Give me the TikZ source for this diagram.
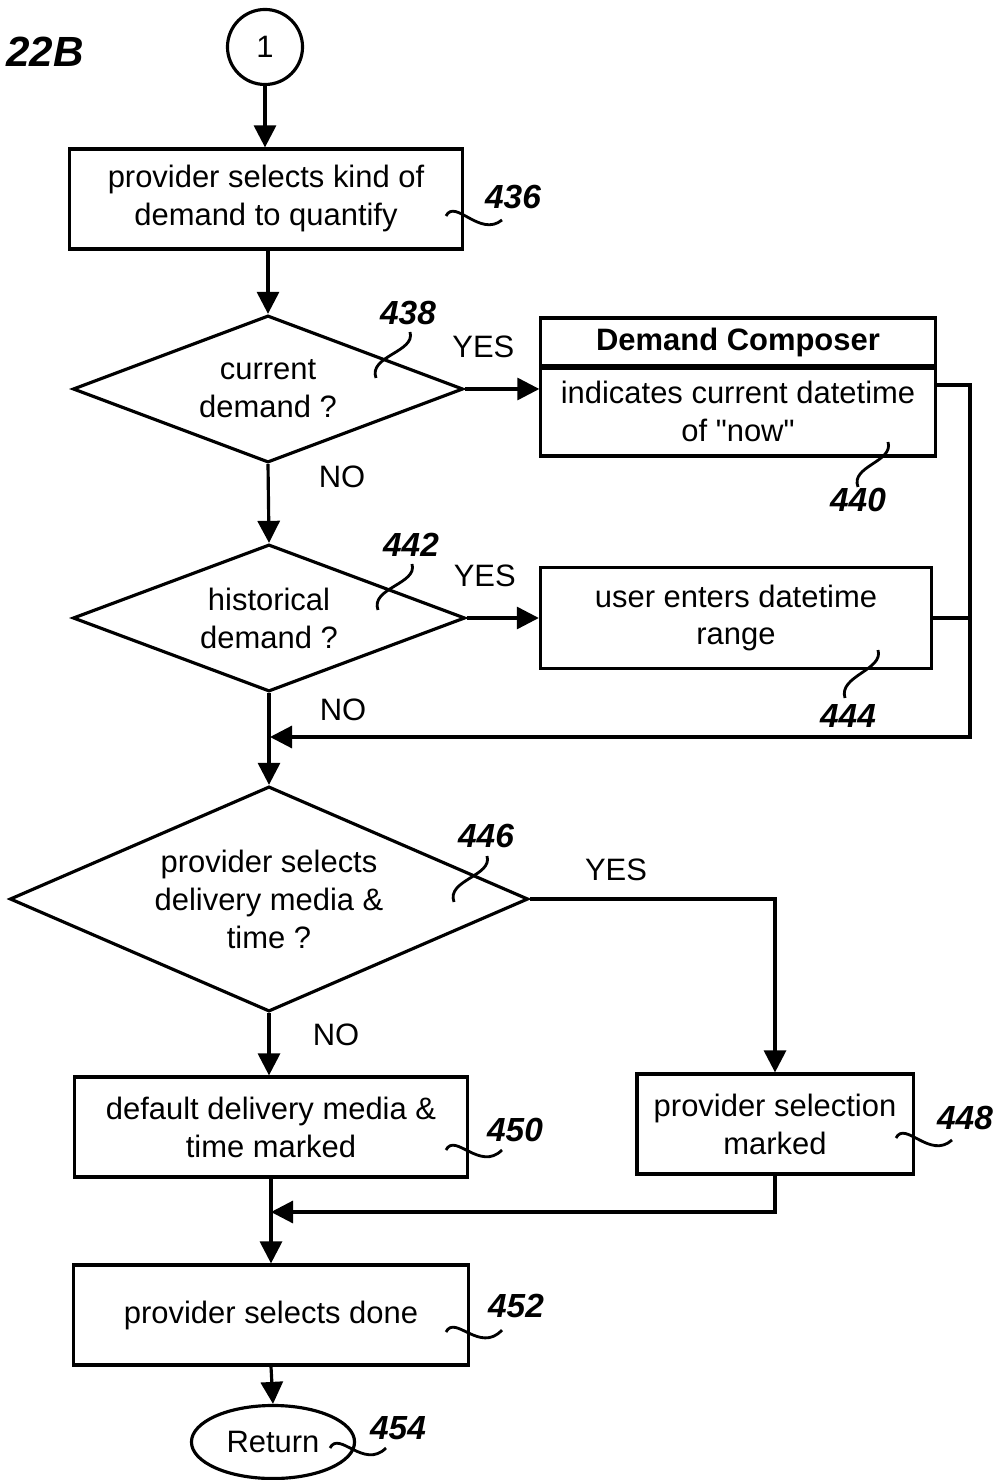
\documentclass[tikz,border=0pt]{standalone}
\usepackage{fontspec}
\setmainfont{Liberation Sans}[Ligatures=TeXOff]
\usetikzlibrary{arrows.meta, shapes.geometric, positioning}

\begin{document}
\begin{tikzpicture}[
    x=0.01cm, y=-0.01cm,
    line width=0.9pt,
    font=\fontsize{8.8}{10.8}\selectfont,
    box/.style={
        draw, rectangle,
        inner sep=0pt,
        align=center
    },
    decision/.style={draw, diamond, inner sep=0pt, align=center},
    conn/.style={draw, circle, minimum size=0.75cm, inner sep=0pt},
    term/.style={draw, ellipse, minimum width=1.63cm, minimum height=0.73cm, inner sep=0pt},
    refnum/.style={font=\fontsize{9.5}{11}\selectfont\bfseries\itshape},
    arr/.style={-{Triangle[length=2.2mm, width=2.2mm]}},
    lead/.style={line width=0.8pt}
]
\useasboundingbox (0,0) rectangle (1000,1480);

% Figure tag and entry connector
\node[font=\fontsize{12}{14}\selectfont\bfseries\itshape] (fig) at (45,52) {22B};
\node[conn] (c1) at (265,47) {1};

% ------- Kind of demand (436) -------
\node[box, minimum width=3.93cm, minimum height=1cm] (b436) at (266,199)
    {provider selects kind of\\demand to quantify};
\draw[arr] (c1) -- (c1 |- b436.north);

% ------- Current demand ? (438) -------
\node[decision, aspect=2.65, minimum width=3.9cm, minimum height=1.47cm] (d438) at (268,389)
    {current\\demand ?};
\draw[arr] (b436.south -| d438.north) -- (d438.north);

% Demand Composer box (440)
\node[box, minimum width=3.94cm, minimum height=0.5cm, font=\fontsize{8.8}{10.8}\selectfont\bfseries]
    (dchead) at (738,343) {Demand Composer};
\node[box, minimum width=3.94cm, minimum height=0.9cm] (dcbody) at (738,411)
    {indicates current datetime\\of "now"};
\draw[arr] (d438.east) -- (d438.east -| dcbody.west)
    node[pos=0.25, above=5pt] (y438) {YES};

% ------- Historical demand ? (442) -------
\node[decision, aspect=2.65, minimum width=3.92cm, minimum height=1.47cm] (d442) at (269,618)
    {historical\\demand ?};
\draw[arr] (d438.south) -- (d442.north);
\node (n438) at (342,477) {NO};

\node[box, minimum width=3.91cm, minimum height=1.01cm] (b444) at (736,618)
    {user enters datetime\\range};
\draw[arr] (d442.east) -- (d442.east -| b444.west)
    node[pos=0.25, above=5pt] (y442) {YES};

% right-hand return rail
\coordinate (rtop) at (970,385);
\coordinate (rbot) at (970,737);
\coordinate (join1) at (270,737);
\draw[arr] (dcbody.east |- rtop) -- (rtop) -- (rbot) -- (join1);
\draw (b444.east) -- (b444.east -| rbot);

% ------- Delivery media & time ? (446) -------
\node[decision, aspect=2.3, minimum width=5.18cm, minimum height=2.25cm] (d446) at (269,899)
    {provider selects\\delivery media \&\\time ?};
\draw[arr] (d442.south) -- (d446.north);
\node (n442) at (343,710) {NO};

\node[box, minimum width=3.92cm, minimum height=1cm] (b450) at (271,1127)
    {default delivery media \&\\time marked};
\node[box, minimum width=2.76cm, minimum height=1cm] (b448) at (775,1124)
    {provider selection\\marked};
\draw[arr] (d446.south) -- (d446.south |- b450.north);
\node (n446) at (336,1035) {NO};
\draw[arr] (d446.east) -| (b448.north);
\node (y446) at (616,870) {YES};

% ------- Done and return -------
\node[box, minimum width=3.94cm, minimum height=1cm] (b452) at (271,1315)
    {provider selects done};
\coordinate (join2) at (271,1212);
\draw[arr] (b448.south) |- (join2);
\draw[arr] (b450.south) -- (b452.north);

\node[term] (ret) at (273,1442) {Return};
\draw[arr] (b452.south) -- (ret.north);

% reference numbers and leaders
\node[refnum] (r436) at (513,197) {436};
\node[refnum] (r438) at (408,313) {438};
\node[refnum] (r440) at (858,500) {440};
\node[refnum] (r442) at (411,545) {442};
\node[refnum] (r444) at (848,716) {444};
\node[refnum] (r446) at (486,836) {446};
\node[refnum] (r450) at (515,1130) {450};
\node[refnum] (r448) at (965,1118) {448};
\node[refnum] (r452) at (516,1306) {452};
\node[refnum] (r454) at (398,1428) {454};

\draw[lead] (446,216) .. controls (455,198) and (480,238) .. (502,220);
\draw[lead] (410,332) .. controls (416,352) and (368,356) .. (376,378);
\draw[lead] (888,442) .. controls (894,462) and (850,466) .. (858,487);
\draw[lead] (412,564) .. controls (418,584) and (370,588) .. (378,610);
\draw[lead] (878,650) .. controls (884,670) and (838,676) .. (845,698);
\draw[lead] (487,856) .. controls (493,876) and (446,880) .. (454,902);
\draw[lead] (446,1150) .. controls (455,1132) and (480,1172) .. (502,1150);
\draw[lead] (896,1138) .. controls (905,1120) and (930,1160) .. (952,1140);
\draw[lead] (446,1332) .. controls (455,1314) and (480,1354) .. (502,1330);
\draw[lead] (330,1448) .. controls (339,1430) and (364,1470) .. (386,1448);
\end{tikzpicture}
\end{document}
